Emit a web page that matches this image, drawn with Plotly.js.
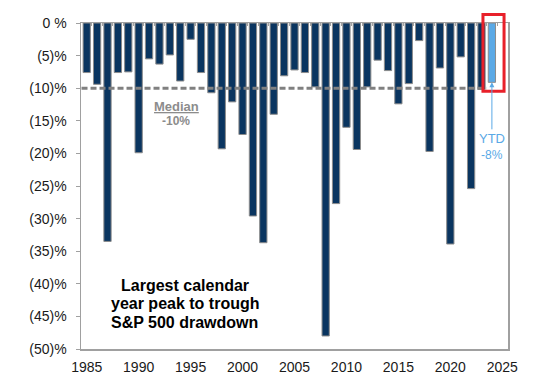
<!DOCTYPE html>
<html>
<head>
<meta charset="utf-8">
<script src="https://cdn.plot.ly/plotly-3.0.1.min.js"></script>
<style>html,body{margin:0;padding:0;background:#fff;}#chart{width:552px;height:390px;}</style>
</head>
<body>
<div id="chart"></div>
<script>
// Data
const years = [1985,1986,1987,1988,1989,1990,1991,1992,1993,1994,1995,1996,1997,1998,1999,
  2000,2001,2002,2003,2004,2005,2006,2007,2008,2009,2010,2011,2012,2013,2014,2015,2016,
  2017,2018,2019,2020,2021,2022,2023];
const drawdowns = [-7.6,-9.4,-33.5,-7.6,-7.5,-19.9,-5.5,-6.3,-4.9,-8.9,-2.5,-7.6,-10.7,-19.3,-12.1,
  -17.1,-29.6,-33.7,-14.0,-8.1,-7.2,-7.6,-9.8,-48.0,-27.7,-16.0,-19.4,-9.8,-5.7,-7.3,-12.4,-9.3,
  -2.7,-19.7,-6.9,-33.9,-5.2,-25.4,-10.2];
const ytdYear = [2024];
const ytdValue = [-9.1];
const ytdLabel = "-8%";
const medianValue = -10;
const medianLabel = "-10%";
const yTickVals = [0,-5,-10,-15,-20,-25,-30,-35,-40,-45,-50];
const yTickText = ["0 %","(5)%","(10)%","(15)%","(20)%","(25)%","(30)%","(35)%","(40)%","(45)%","(50)%"];
const boxLines = ["Largest calendar","year peak to trough","S&P 500 drawdown"];

const allYears = years.concat(ytdYear);
const xRange = [allYears[0] - 0.55, allYears[allYears.length-1] + 1.55];
const yearEdges = allYears.map(y => y - 0.5).concat([allYears[allYears.length-1] + 0.5]);

const font = "Liberation Sans, Arial, sans-serif";

const traces = [
  {type:'bar', x: years, y: drawdowns, width: 0.7,
   marker:{color:'#0a3560', line:{color:'#8c8c8c', width:1}}, hoverinfo:'skip'},
  {type:'bar', x: ytdYear, y: ytdValue, width: 0.7,
   marker:{color:'#5aa9e6', line:{color:'#8c8c8c', width:1}}, hoverinfo:'skip'},
  {type:'scatter', mode:'lines', x:[years[0]-0.5, years[years.length-1]+0.5], y:[medianValue, medianValue],
   line:{color:'#808080', width:3, dash:'6px,3px'}, hoverinfo:'skip'},
  {type:'scatter', mode:'markers', x:[allYears[0]], y:[0], xaxis:'x2', marker:{opacity:0}, hoverinfo:'skip'}
];

const annotations = [];
const boxY = [0.194, 0.139, 0.081];
boxLines.forEach((t,i) => annotations.push({
  xref:'paper', yref:'paper', x:0.243, y:boxY[i], text:'<b>'+t+'</b>', showarrow:false,
  font:{family:font, size:16, color:'#000'}, xanchor:'center', yanchor:'middle'}));
annotations.push({xref:'paper', yref:'paper', x:0.2234, y:0.745, text:'<b><u>Median</u></b>', showarrow:false,
  font:{family:font, size:13, color:'#8c8c8c'}, xanchor:'center', yanchor:'middle'});
annotations.push({xref:'paper', yref:'paper', x:0.2234, y:0.700, text:'<b>'+medianLabel+'</b>', showarrow:false,
  font:{family:font, size:12, color:'#8c8c8c'}, xanchor:'center', yanchor:'middle'});
annotations.push({x: ytdYear[0], y: ytdValue[0], xref:'x', yref:'y', text:'YTD', showarrow:true,
  ax:0, ay:56, arrowhead:2, arrowsize:1, arrowwidth:1, arrowcolor:'#5aa9e6', standoff:0,
  font:{family:font, size:13, color:'#5aa9e6'}});
annotations.push({x: ytdYear[0], y: ytdValue[0], xref:'x', yref:'y', text:ytdLabel, showarrow:false,
  yshift:-73, font:{family:font, size:12, color:'#5aa9e6'}});

const layout = {
  width:552, height:390, margin:{l:81, r:44, t:23, b:41},
  paper_bgcolor:'#fff', plot_bgcolor:'#fff', showlegend:false, barmode:'overlay',
  font:{family:font, size:14, color:'#1a1a1a'},
  xaxis:{range:xRange, tick0:1985, dtick:5, showgrid:false, zeroline:false, showline:true,
    linecolor:'#a0a0a0', linewidth:1.5, mirror:true, ticks:'', fixedrange:true, ticklabelstandoff:5,
    tickfont:{family:font, size:14, color:'#1a1a1a'}},
  xaxis2:{overlaying:'x', side:'top', range:xRange, tickmode:'array', tickvals:yearEdges,
    ticks:'inside', ticklen:3, tickcolor:'#a0a0a0', tickwidth:1, showticklabels:false,
    showgrid:false, zeroline:false, showline:false, fixedrange:true},
  yaxis:{range:[-50,0], tickmode:'array', tickvals:yTickVals, ticktext:yTickText,
    showgrid:false, zeroline:false, showline:true, linecolor:'#a0a0a0', linewidth:1.5, mirror:true,
    ticks:'outside', ticklen:4, tickcolor:'#a0a0a0', ticklabelstandoff:6, fixedrange:true,
    tickfont:{family:font, size:14, color:'#1a1a1a'}},
  shapes:[{type:'rect', xref:'x', yref:'paper', x0: ytdYear[0]-0.86, x1: ytdYear[0]+1.17,
    y0:0.791, y1:1.0257, line:{color:'#e8202a', width:3}, fillcolor:'rgba(0,0,0,0)', layer:'above'}],
  annotations: annotations
};

Plotly.newPlot('chart', traces, layout, {staticPlot:true, displayModeBar:false});
</script>
</body>
</html>
